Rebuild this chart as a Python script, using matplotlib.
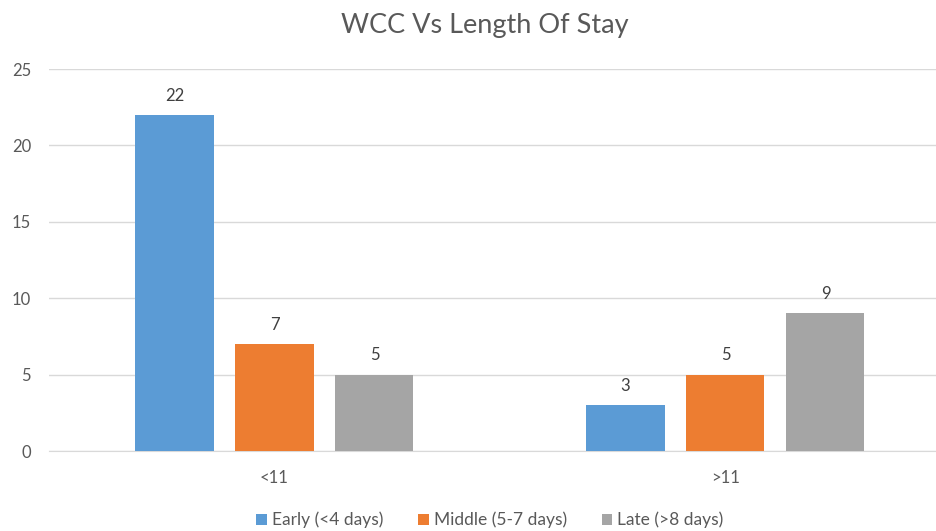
import numpy as np
import matplotlib
matplotlib.use('Agg')
import matplotlib.pyplot as plt

categories = ['<11', '>11']
series_names = ['Early (<4 days)', 'Middle (5-7 days)', 'Late (>8 days)']
early = [22, 3]
middle = [7, 5]
late = [5, 9]
colors = ['#5B9BD5', '#ED7D31', '#A5A5A5']

plt.rcParams['font.family'] = ['Lato', 'DejaVu Sans']

fig = plt.figure(figsize=(9.37, 5.31), dpi=100)
ax = fig.add_axes([49 / 937, 80 / 531, 888 / 937, 382 / 531])

x = np.arange(len(categories))
width = 0.173
step = 0.2217
for i, (vals, name, c) in enumerate(zip([early, middle, late], series_names, colors)):
    pos = x + (i - 1) * step
    bars = ax.bar(pos, vals, width, color=c, label=name, zorder=3)
    for b, v in zip(bars, vals):
        ax.annotate(str(v), (b.get_x() + b.get_width() / 2, v), xytext=(0, 8),
                    textcoords='offset points', ha='center', va='bottom',
                    fontsize=12, color='#404040')

ax.set_xlim(-0.5, 1.469)
ax.set_ylim(0, 25)
ax.set_yticks(range(0, 26, 5))
ax.yaxis.grid(True, color='#D9D9D9', linewidth=1, zorder=0)
for s in ['top', 'right', 'left']:
    ax.spines[s].set_visible(False)
ax.spines['bottom'].set_color('#D9D9D9')
ax.tick_params(length=0, labelsize=12, labelcolor='#595959')
ax.tick_params(axis='y', pad=13)
ax.tick_params(axis='x', pad=14)
ax.set_xticks(x)
ax.set_xticklabels(categories)

fig.text(485 / 937, 1 - 25 / 531, 'WCC Vs Length Of Stay', ha='center', va='center',
         fontsize=19.5, color='#595959')
fig.legend(loc='center', bbox_to_anchor=(490 / 937, 1 - 520 / 531), ncol=3, frameon=False,
           fontsize=12.5, labelcolor='#595959', handlelength=0.6, handleheight=0.6,
           handletextpad=0.3, columnspacing=2.0)

fig.savefig('out.png', dpi=100)
